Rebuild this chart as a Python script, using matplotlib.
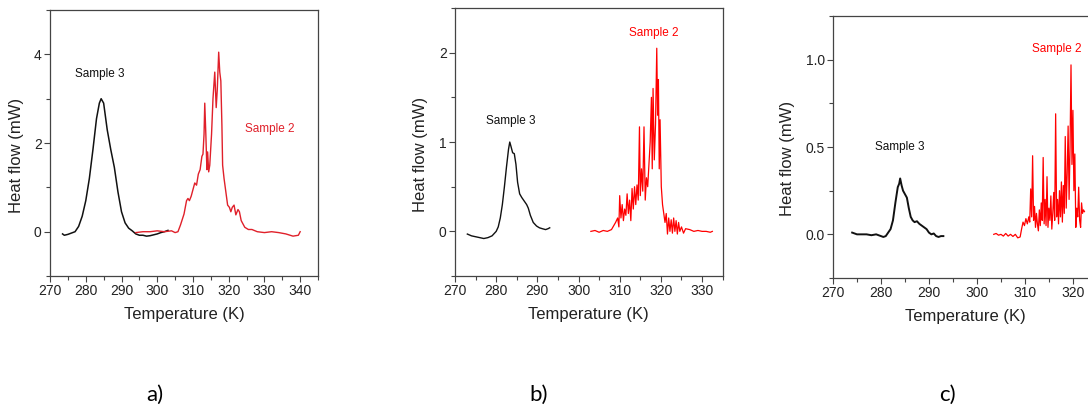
import matplotlib.pyplot as plt
from matplotlib import font_manager
from matplotlib.ticker import MultipleLocator, FormatStrFormatter

font_size = 12

# ---------------- panel a ----------------
a_s3_T = [273.5, 274, 275, 276, 277, 278, 279, 280, 281, 282, 283, 283.8, 284.3, 285, 285.5,
          286, 287, 288, 289, 290, 291, 292, 293, 294, 295, 296, 297, 298, 299, 300, 301, 302, 303]
a_s3_Q = [-0.05, -0.08, -0.06, -0.03, 0.0, 0.12, 0.35, 0.7, 1.2, 1.85, 2.55, 2.9, 3.0, 2.9, 2.6,
          2.3, 1.85, 1.45, 0.9, 0.45, 0.2, 0.08, 0.02, -0.05, -0.08, -0.08, -0.1, -0.09, -0.07, -0.05, -0.02, 0.0, 0.03]

a_s2_T = [294, 296, 298, 300, 302, 304, 305, 305.8, 306.5, 307.5, 308.2, 308.6, 309, 309.5, 310, 310.5,
          311, 311.5, 312, 312.5, 312.8, 313.1, 313.3, 313.6, 313.9, 314.1, 314.4, 314.7, 315.2, 315.6,
          316.1, 316.5, 316.8, 317.2, 317.5, 317.8, 318.1, 318.3, 318.7, 319.2, 319.7, 320.2, 320.6, 321,
          321.5, 322, 322.6, 323, 323.5, 324.5, 325.5, 326.5, 328, 330, 332, 334, 336, 338, 339.5, 340]
a_s2_Q = [-0.02, 0.0, 0.0, 0.02, 0.0, 0.02, -0.02, 0.0, 0.15, 0.4, 0.7, 0.75, 0.7, 0.8, 0.95, 1.1,
          1.05, 1.3, 1.4, 1.7, 1.75, 2.2, 2.9, 2.2, 1.4, 1.8, 1.35, 1.5, 2.2, 3.0,
          3.6, 2.8, 3.2, 4.05, 3.6, 3.4, 2.4, 1.5, 1.2, 0.9, 0.6, 0.55, 0.45, 0.55,
          0.6, 0.38, 0.5, 0.45, 0.25, 0.1, 0.05, 0.05, 0.0, -0.02, 0.0, -0.02, -0.05, -0.1, -0.08, 0.0]

# ---------------- panel b ----------------
b_s3_T = [273, 274, 275, 276, 277, 278, 279, 280, 280.5, 281, 281.5, 282, 282.5, 283, 283.3, 283.6,
          284, 284.4, 284.8, 285.2, 285.7, 286.2, 286.8, 287.4, 287.8, 288.3, 289, 289.8, 290.5, 291.2,
          292, 292.6, 293]
b_s3_Q = [-0.03, -0.05, -0.06, -0.07, -0.08, -0.07, -0.05, 0.0, 0.05, 0.15, 0.3, 0.5, 0.72, 0.92, 1.0, 0.95,
          0.88, 0.87, 0.75, 0.55, 0.42, 0.38, 0.34, 0.3, 0.26, 0.18, 0.1, 0.06, 0.04, 0.03,
          0.02, 0.03, 0.04]

b_s2_T = [303, 304, 305, 306, 307, 308, 308.5, 309, 309.5, 309.8, 310.0, 310.3, 310.6, 310.9, 311.2,
          311.5, 311.8, 312.1, 312.4, 312.7, 313.0, 313.3, 313.6, 313.9, 314.2, 314.5, 314.8, 315.0,
          315.3, 315.6, 315.9, 316.2, 316.5, 316.8, 317.1, 317.4, 317.7, 317.9, 318.1, 318.4, 318.7,
          319.0, 319.2, 319.4, 319.6, 319.8, 320.1, 320.4, 320.7, 321.0, 321.3, 321.6, 321.9, 322.2,
          322.5, 322.8, 323.1, 323.4, 323.7, 324.0, 324.3, 324.6, 325, 325.5, 326, 327, 328, 329, 330,
          331, 332, 332.5]
b_s2_Q = [0.0, 0.01, -0.01, 0.01, 0.0, 0.02, 0.06, 0.1, 0.15, 0.05, 0.4, 0.15, 0.3, 0.12, 0.25,
          0.18, 0.42, 0.2, 0.35, 0.12, 0.48, 0.25, 0.5, 0.3, 0.52, 0.35, 1.17, 0.4,
          0.7, 0.45, 1.17, 0.35, 0.6, 0.5, 0.75, 1.0, 1.5, 0.7, 1.6, 0.8, 1.2,
          2.05, 1.3, 1.7, 0.7, 1.25, 0.5, 0.3, 0.2, 0.1, 0.2, -0.03, 0.15, 0.0,
          0.13, -0.02, 0.15, 0.0, 0.12, -0.03, 0.1, 0.0, 0.05, -0.02, 0.03, 0.02, 0.0, 0.01, 0.0,
          0.0, -0.01, 0.0]

# ---------------- panel c ----------------
c_s3_T = [274, 275, 276, 277, 278, 279, 280, 280.5, 281, 281.5, 282, 282.5, 283, 283.5, 283.8, 284,
          284.3, 284.6, 285, 285.4, 285.8, 286.2, 286.6, 287, 287.5, 288, 288.5, 289, 289.5, 290,
          290.5, 291, 291.5, 292, 292.5, 293]
c_s3_Q = [0.01, 0.0, 0.0, 0.0, -0.005, 0.0, -0.01, -0.015, -0.01, 0.01, 0.03, 0.08, 0.18, 0.27, 0.29, 0.32,
          0.28, 0.25, 0.23, 0.21, 0.15, 0.1, 0.08, 0.07, 0.075, 0.06, 0.05, 0.04, 0.03, 0.01,
          0.0, 0.005, -0.01, -0.015, -0.01, -0.01]

c_s2_T = [303.5, 304.0, 304.5, 305.0, 305.5, 306.0, 306.5, 307.0, 307.5, 308.0, 308.5, 309.0, 309.3,
          309.6, 309.9, 310.2, 310.5, 310.8, 311.0, 311.2, 311.4, 311.6, 311.8, 312.0, 312.2, 312.4,
          312.6, 312.8, 313.0, 313.2, 313.4, 313.6, 313.8, 314.0, 314.2, 314.4, 314.6, 314.8, 315.0,
          315.2, 315.4, 315.6, 315.8, 316.0, 316.2, 316.4, 316.6, 316.8, 317.0, 317.2, 317.4, 317.6,
          317.8, 318.0, 318.2, 318.4, 318.6, 318.8, 319.0, 319.2, 319.4, 319.6, 319.8, 320.0, 320.2,
          320.4, 320.6, 320.8, 321.0, 321.2, 321.4, 321.6, 321.8, 322.0, 322.2, 322.4]
c_s2_Q = [0.0, 0.005, -0.005, 0.0, -0.01, 0.005, -0.01, 0.0, -0.012, 0.0, -0.02, -0.015, 0.03,
          0.07, 0.05, 0.09, 0.06, 0.1, 0.07, 0.26, 0.1, 0.45, 0.08, 0.16, 0.04, 0.12,
          0.06, 0.02, 0.14, 0.05, 0.18, 0.08, 0.44, 0.06, 0.2, 0.05, 0.33, 0.04, 0.15,
          0.08, 0.22, 0.03, 0.12, 0.24, 0.08, 0.69, 0.1, 0.2, 0.06, 0.25, 0.1, 0.3,
          0.07, 0.28, 0.12, 0.56, 0.15, 0.35, 0.62, 0.2, 0.5, 0.97, 0.4, 0.71, 0.25,
          0.46, 0.04, 0.15, 0.1, 0.27, 0.08, 0.04, 0.18, 0.12, 0.14, 0.13]

black = '#111111'
red_a = '#e0202a'
red = '#ff0000'

#narrow face for tick labels if it is there
names = {f.name for f in font_manager.fontManager.ttflist}
tick_family = 'Liberation Sans Narrow' if 'Liberation Sans Narrow' in names else 'Liberation Sans'
tick_size = 12 if tick_family == 'Liberation Sans Narrow' else 10

plt.rcParams['font.family'] = ['Liberation Sans', 'DejaVu Sans']
fig = plt.figure(figsize=(10.88, 4.12), dpi=100)

#axes rectangles (left, bottom, width, height)
ax_a = fig.add_axes([0.046, 0.330, 0.2463, 0.6456])
ax_b = fig.add_axes([0.4182, 0.330, 0.2460, 0.6505])
ax_c = fig.add_axes([0.7656, 0.3252, 0.2426, 0.636])

ax_a.plot(a_s3_T, a_s3_Q, color=black, linewidth=1.1)
ax_a.plot(a_s2_T, a_s2_Q, color=red_a, linewidth=1.0)
ax_a.text(284, 3.55, 'Sample 3', color=black, fontsize=8.5, ha='center', va='center')
ax_a.text(331.5, 2.32, 'Sample 2', color=red_a, fontsize=8.5, ha='center', va='center')
ax_a.set_xlim(270, 345)
ax_a.set_ylim(-1, 5)
ax_a.yaxis.set_major_locator(MultipleLocator(2))
ax_a.yaxis.set_minor_locator(MultipleLocator(1))

ax_b.plot(b_s3_T, b_s3_Q, color=black, linewidth=1.0)
ax_b.plot(b_s2_T, b_s2_Q, color=red, linewidth=0.9)
ax_b.text(283.5, 1.23, 'Sample 3', color=black, fontsize=8.5, ha='center', va='center')
ax_b.text(318.3, 2.22, 'Sample 2', color=red, fontsize=8.5, ha='center', va='center')
ax_b.set_xlim(270, 335)
ax_b.set_ylim(-0.5, 2.5)
ax_b.yaxis.set_major_locator(MultipleLocator(1))
ax_b.yaxis.set_minor_locator(MultipleLocator(0.5))

ax_c.plot(c_s3_T, c_s3_Q, color=black, linewidth=1.4)
ax_c.plot(c_s2_T, c_s2_Q, color=red, linewidth=0.9)
ax_c.text(283.9, 0.50, 'Sample 3', color=black, fontsize=8.5, ha='center', va='center')
ax_c.text(316.7, 1.06, 'Sample 2', color=red, fontsize=8.5, ha='center', va='center')
ax_c.set_xlim(270, 325)
ax_c.set_ylim(-0.25, 1.25)
ax_c.yaxis.set_major_locator(MultipleLocator(0.5))
ax_c.yaxis.set_minor_locator(MultipleLocator(0.25))
ax_c.yaxis.set_major_formatter(FormatStrFormatter('%.1f'))

#ylabel positions (axes fraction, baseline side)
label_xy = {ax_a: (-0.097, 0.455), ax_b: (-0.10, 0.455), ax_c: (-0.144, 0.458)}

for ax in [ax_a, ax_b, ax_c]:
    ax.xaxis.set_major_locator(MultipleLocator(10))
    ax.xaxis.set_minor_locator(MultipleLocator(5))
    ax.tick_params(which='major', direction='out', length=4, width=0.8, color='#444444',
                   labelsize=tick_size, labelcolor='#222222', pad=2)
    ax.tick_params(which='minor', direction='out', length=3, width=0.8, color='#444444')
    for lab in ax.get_xticklabels() + ax.get_yticklabels():
        lab.set_family([tick_family, 'DejaVu Sans'])
    for s in ax.spines.values():
        s.set_color('#444444')
        s.set_linewidth(0.9)
    ax.set_xlabel('Temperature (K)', fontsize=font_size, color='#222222', labelpad=6)
    ax.set_ylabel('Heat flow (mW)', fontsize=font_size, color='#222222')
    ax.yaxis.set_label_coords(*label_xy[ax])

#panel letters
for x, s in [(0.1425, 'a)'), (0.495, 'b)'), (0.871, 'c)')]:
    fig.text(x, 0.041, s, fontsize=16, ha='center', va='center', family=['Lato', 'DejaVu Sans'])

fig.savefig('out.png', dpi=100)
